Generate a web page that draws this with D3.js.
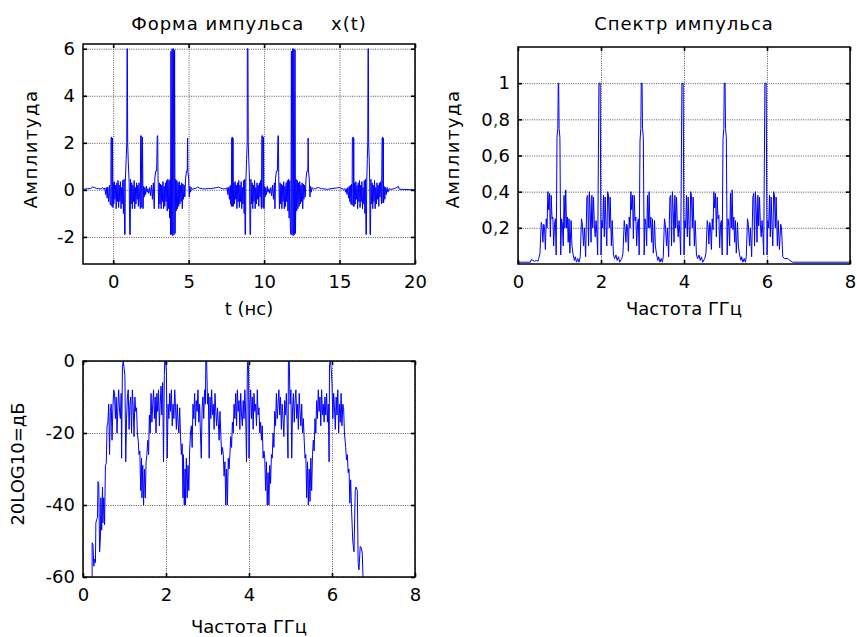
<!DOCTYPE html>
<meta charset="utf-8">
<style>
body { margin: 0; background: #fff; }
svg text { font-family: "DejaVu Sans", sans-serif; fill: #000; }
.grid line { stroke: #555; stroke-dasharray: 1,1.3; stroke-width: 1; }
.grid path { display: none; }
.tk line { stroke: #000; stroke-width: 1.6; }
.tk path { display: none; }
.box { fill: none; stroke: #000; stroke-width: 1.5; }
.sig { fill: none; stroke: #0000ff; stroke-width: 1; stroke-linejoin: miter; }
.ttl { white-space: pre; letter-spacing: 1px; }
.ylab { letter-spacing: 1.5px; }
</style>
<svg width="857" height="637"></svg>
<script src="https://d3js.org/d3.v7.min.js"></script>
<script>
// ---- данные: форма импульса x(t), t в нс ----
var pulseA = [[-2.1,0.02],[-1.9,0.03],[-1.7,0.05],[-1.5,0.06],[-1.35,0.12],[-1.25,0.1],[-1.1,0.06],[-0.95,0.05],[-0.8,0.04],[-0.7,0.1],[-0.62,0.02],[-0.55,0.08],[-0.5,-0.2],[-0.45,0.1],[-0.4,-0.35],[-0.36,0.12],[-0.3,-0.5],[-0.25,0.2],[-0.2,-0.6],
  [-0.16,-0.65],[-0.14,2.2],[-0.1,2.25],[-0.08,-0.7],[-0.05,2.2],[-0.02,-0.75],
  [0.0,0.3],[0.04,-0.6],[0.08,0.35],[0.12,-0.4],[0.16,0.2],[0.2,-0.8],[0.24,0.3],[0.28,-0.5],[0.32,0.4],[0.36,-0.75],[0.4,0.2],[0.44,-0.5],[0.48,0.35],[0.52,-0.8],[0.56,0.1],[0.6,-0.6],[0.64,0.4],[0.68,-1.0],[0.72,0.45],[0.76,-1.9],[0.79,-1.9],[0.8,0.3],[0.86,1.3],[0.9,2.0],[0.92,6.0],[0.94,6.0],[0.96,2.0],[1.0,1.2],[1.06,0.3],[1.1,-1.9],[1.13,-1.9],[1.15,0.45],[1.19,-0.6],[1.23,0.3],[1.27,-0.8],[1.31,0.2],[1.35,-0.5],[1.39,0.4],[1.43,-0.8],[1.47,0.1],[1.51,-0.6],[1.55,0.3],[1.59,-0.4],[1.63,0.2],[1.67,-0.7],[1.71,0.3],[1.75,-0.3],[1.8,-0.8],[1.82,2.3],[1.86,2.3],[1.9,-0.75],[1.94,2.25],[1.98,-0.8],[2.02,0.15],[2.06,-0.3],[2.1,0.1],[2.15,-0.2],[2.2,0.15],[2.25,-0.1],[2.3,0.05],[2.36,-0.15],[2.42,0.1],[2.48,-0.25],[2.54,0.2],[2.6,-0.4],[2.66,0.3],[2.72,-0.8],[2.76,0.5],[2.82,0.8],[2.88,0.8],[2.92,2.3],[2.95,2.3],[2.97,0.6],[3.02,-0.8],[3.06,0.3],[3.1,-0.6],[3.14,0.25],[3.18,-0.8],[3.22,0.2],[3.26,-0.5],[3.3,0.35],[3.34,-0.8],[3.38,0.15],[3.42,-0.7],[3.46,0.3],[3.5,-0.5],[3.54,0.4],[3.58,-0.9],[3.62,0.45],[3.66,-0.8],[3.7,0.4],[3.74,-1.2],[3.78,0.45],[3.8,-1.9],[3.83,5.9],[3.87,-1.9],[3.91,6.0],[3.95,-1.95],[3.99,6.0],[4.03,-1.9],[4.07,5.95],[4.1,-1.85],[4.14,0.45],[4.18,-0.9],[4.22,0.4],[4.26,-0.8],[4.3,0.3],[4.34,-0.7],[4.38,0.35],[4.42,-0.6],[4.46,0.2],[4.5,-0.5],[4.54,0.3],[4.58,-0.8],[4.62,0.25],[4.66,-0.4],[4.7,0.2],[4.75,-0.3],[4.8,0.5],[4.86,0.8],[4.91,0.8],[4.93,2.2],[4.95,0.8],[5.0,0.5],[5.04,-0.3],[5.08,0.15],[5.12,-0.1],[5.18,0.1],[5.25,0.02],[5.35,0.05],[5.5,0.08],[5.6,0.12],[5.7,0.08],[5.9,0.05],[6.1,0.04],[6.3,0.06],[6.5,0.05],[6.7,0.08],[6.9,0.1],[7.0,0.12],[7.1,0.08],[7.3,0.04],[7.45,0.05]];

var pulseB = [[7.5,0.03],[7.55,0.1],[7.6,-0.2],[7.65,0.1],[7.7,-0.4],[7.74,0.15],[7.78,-0.6],[7.8,0.2],[7.83,-0.7],[7.85,2.2],[7.9,2.25],[7.92,-0.7],[7.94,2.2],[7.96,-0.7],[8.0,0.3],[8.04,-0.6],[8.08,0.35],[8.12,-0.4],[8.16,0.2],[8.2,-0.8],[8.24,0.3],[8.28,-0.5],[8.32,0.4],[8.36,-0.75],[8.4,0.2],[8.44,-0.5],[8.48,0.35],[8.52,-0.8],[8.56,0.1],[8.6,-0.6],[8.64,0.4],[8.68,-1.0],[8.72,0.45],[8.74,-1.9],[8.77,-1.9],[8.79,0.3],[8.84,1.3],[8.88,2.0],[8.89,6.0],[8.93,6.0],[8.95,2.0],[8.99,1.2],[9.04,0.3],[9.07,-1.9],[9.1,-1.9],[9.13,0.45],[9.17,-0.6],[9.21,0.3],[9.25,-0.8],[9.29,0.2],[9.33,-0.5],[9.37,0.4],[9.41,-0.8],[9.45,0.1],[9.49,-0.6],[9.53,0.3],[9.57,-0.4],[9.61,0.2],[9.65,-0.7],[9.69,0.3],[9.73,-0.3],[9.77,0.4],[9.82,-0.8],[9.85,2.3],[9.9,2.3],[9.93,-0.75],[9.96,2.25],[9.99,-0.8],[10.03,0.15],[10.07,-0.3],[10.11,0.1],[10.16,-0.2],[10.21,0.15],[10.26,-0.1],[10.32,0.05],[10.38,-0.15],[10.44,0.1],[10.5,-0.25],[10.56,0.2],[10.62,-0.4],[10.68,0.3],[10.72,-0.8],[10.76,0.5],[10.82,0.8],[10.88,0.8],[10.92,2.3],[10.95,2.3],[10.97,0.6],[11.02,-0.8],[11.06,0.3],[11.1,-0.6],[11.14,0.25],[11.18,-0.8],[11.22,0.2],[11.26,-0.5],[11.3,0.35],[11.34,-0.8],[11.38,0.15],[11.42,-0.7],[11.46,0.3],[11.5,-0.5],[11.54,0.4],[11.58,-0.9],[11.62,0.45],[11.66,-1.2],[11.7,0.4],[11.74,-1.6],[11.78,-1.9],[11.81,5.9],[11.85,-1.9],[11.89,6.0],[11.93,-1.95],[11.97,6.0],[12.01,-1.9],[12.05,5.95],[12.08,-1.85],[12.12,0.45],[12.16,-0.9],[12.2,0.4],[12.24,-0.8],[12.28,0.3],[12.32,-0.7],[12.36,0.35],[12.4,-0.6],[12.44,0.2],[12.48,-0.5],[12.52,0.3],[12.56,-0.8],[12.6,0.25],[12.64,-0.4],[12.68,0.2],[12.73,-0.3],[12.78,0.5],[12.84,0.8],[12.9,0.8],[12.92,2.2],[12.94,0.8],[12.99,0.5],[13.04,-0.3],[13.08,0.15],[13.12,-0.1],[13.18,0.1],[13.26,0.03],[13.4,0.06],[13.6,0.1],[13.8,0.05],[14.0,0.04],[14.2,0.02],[14.5,0.06],[14.8,0.08],[15.0,0.1],[15.1,0.07],[15.25,0.03],[15.35,0.05]];

var pulseC = [[15.4,-0.1],[15.45,0.05],[15.5,-0.2],[15.55,0.1],[15.6,-0.35],[15.64,0.15],[15.68,-0.5],[15.72,0.2],[15.76,-0.6],[15.8,0.25],[15.83,-0.65],[15.85,2.2],[15.9,2.25],[15.92,-0.7],[15.94,2.2],[15.96,-0.7],[16.0,0.3],[16.04,-0.6],[16.08,0.35],[16.12,-0.4],[16.16,0.2],[16.2,-0.8],[16.24,0.3],[16.28,-0.5],[16.32,0.4],[16.36,-0.75],[16.4,0.2],[16.44,-0.5],[16.48,0.35],[16.52,-0.8],[16.56,0.1],[16.6,-0.6],[16.64,0.4],[16.68,-1.0],[16.72,0.45],[16.75,-1.9],[16.78,-1.9],[16.8,0.3],[16.84,1.3],[16.87,2.0],[16.89,6.0],[16.91,6.0],[16.93,2.0],[16.97,1.2],[17.0,0.3],[17.02,-1.9],[17.05,-1.9],[17.08,0.45],[17.12,-0.6],[17.16,0.3],[17.2,-0.8],[17.24,0.2],[17.28,-0.5],[17.32,0.4],[17.36,-0.8],[17.4,0.1],[17.44,-0.6],[17.48,0.3],[17.52,-0.4],[17.56,0.2],[17.6,-0.7],[17.64,0.3],[17.68,-0.3],[17.72,0.35],[17.78,-0.6],[17.82,2.2],[17.86,2.25],[17.88,-0.55],[17.9,2.2],[17.92,-0.55],[17.96,0.15],[18.0,-0.4],[18.05,0.1],[18.1,-0.2],[18.15,0.1],[18.2,-0.1],[18.28,0.05],[18.4,0.02],[18.6,0.05],[18.8,0.1],[18.9,0.15],[18.95,0.03],[19.2,0.02],[19.6,0.01],[20.1,0.0]];

// ---- данные: спектр импульса (амплитуда), частота в ГГц ----
var spectrum = [[0,0.01],[0.3,0.01],[0.32,0.025],[0.36,0.02],[0.4,0.015],[0.44,0.02],[0.48,0.015],[0.5,0.03],
  [0.53,0.06],[0.56,0.23],[0.58,0.21],[0.6,0.12],[0.62,0.22],[0.64,0.2],[0.66,0.08],[0.68,0.25],[0.7,0.2],[0.72,0.4],[0.74,0.3],[0.76,0.39],[0.78,0.15],[0.8,0.38],[0.82,0.25],[0.84,0.26],[0.86,0.1],[0.88,0.22],[0.9,0.25],[0.92,0.05],[0.94,0.7],[0.96,0.75],[0.97,1.0],[0.98,1.0],[0.99,0.75],[1.01,0.7],[1.03,0.05],[1.05,0.25],[1.07,0.22],[1.09,0.1],[1.11,0.38],[1.13,0.2],[1.15,0.41],[1.17,0.2],[1.19,0.26],[1.21,0.12],[1.23,0.25],[1.25,0.06],[1.28,0.24],[1.3,0.1],[1.33,0.05],[1.36,0.02],[1.38,0.04],[1.41,0.01],[1.44,0.03],[1.47,0.01],[1.5,0.04],
  [1.53,0.25],[1.55,0.22],[1.58,0.1],[1.6,0.2],[1.63,0.04],[1.66,0.37],[1.68,0.38],[1.7,0.1],[1.72,0.4],[1.74,0.3],[1.76,0.12],[1.78,0.38],[1.8,0.2],[1.82,0.37],[1.84,0.22],[1.86,0.15],[1.88,0.24],[1.9,0.17],[1.92,0.05],[1.95,1.0],[1.98,1.0],[2.0,0.05],[2.02,0.24],[2.04,0.2],[2.06,0.38],[2.08,0.15],[2.1,0.37],[2.12,0.22],[2.14,0.1],[2.16,0.4],[2.18,0.38],[2.2,0.2],[2.22,0.37],[2.25,0.1],[2.27,0.24],[2.3,0.05],[2.33,0.03],[2.36,0.05],[2.39,0.02],[2.42,0.04],[2.45,0.01],[2.5,0.03],
  [2.53,0.06],[2.56,0.24],[2.58,0.2],[2.6,0.12],[2.62,0.22],[2.64,0.2],[2.66,0.07],[2.68,0.26],[2.7,0.2],[2.72,0.4],[2.74,0.3],[2.76,0.38],[2.78,0.14],[2.8,0.38],[2.82,0.24],[2.84,0.26],[2.86,0.1],[2.88,0.22],[2.9,0.25],[2.92,0.05],[2.94,0.68],[2.96,0.75],[2.97,1.0],[2.99,1.0],[3.0,0.75],[3.02,0.7],[3.04,0.05],[3.06,0.25],[3.08,0.22],[3.1,0.1],[3.12,0.38],[3.14,0.2],[3.16,0.4],[3.18,0.2],[3.2,0.26],[3.22,0.12],[3.24,0.25],[3.26,0.06],[3.29,0.24],[3.31,0.1],[3.34,0.05],[3.37,0.02],[3.39,0.04],[3.42,0.01],[3.45,0.03],[3.48,0.01],[3.5,0.04],
  [3.53,0.25],[3.55,0.22],[3.58,0.1],[3.6,0.2],[3.63,0.04],[3.66,0.37],[3.68,0.38],[3.7,0.1],[3.72,0.4],[3.74,0.3],[3.76,0.12],[3.78,0.38],[3.8,0.2],[3.82,0.37],[3.84,0.22],[3.86,0.15],[3.88,0.24],[3.9,0.17],[3.92,0.05],[3.95,1.0],[3.98,1.0],[4.0,0.05],[4.02,0.24],[4.04,0.2],[4.06,0.38],[4.08,0.15],[4.1,0.37],[4.12,0.22],[4.14,0.1],[4.16,0.4],[4.18,0.38],[4.2,0.2],[4.22,0.37],[4.25,0.1],[4.27,0.24],[4.3,0.05],[4.33,0.03],[4.36,0.05],[4.39,0.02],[4.42,0.04],[4.45,0.01],[4.5,0.03],
  [4.53,0.06],[4.56,0.24],[4.58,0.21],[4.6,0.11],[4.62,0.23],[4.64,0.2],[4.66,0.08],[4.68,0.25],[4.7,0.19],[4.72,0.4],[4.74,0.31],[4.76,0.39],[4.78,0.15],[4.8,0.37],[4.82,0.25],[4.84,0.27],[4.86,0.09],[4.88,0.22],[4.9,0.24],[4.92,0.05],[4.94,0.69],[4.96,0.75],[4.97,1.0],[4.99,1.0],[5.0,0.75],[5.02,0.7],[5.04,0.05],[5.06,0.25],[5.08,0.21],[5.1,0.1],[5.12,0.39],[5.14,0.2],[5.16,0.41],[5.18,0.19],[5.2,0.26],[5.22,0.12],[5.24,0.24],[5.26,0.06],[5.29,0.23],[5.31,0.1],[5.34,0.05],[5.37,0.02],[5.39,0.04],[5.42,0.01],[5.45,0.03],[5.48,0.01],[5.5,0.04],
  [5.53,0.25],[5.55,0.22],[5.58,0.1],[5.6,0.2],[5.63,0.04],[5.66,0.37],[5.68,0.39],[5.7,0.1],[5.72,0.4],[5.74,0.3],[5.76,0.12],[5.78,0.38],[5.8,0.21],[5.82,0.37],[5.84,0.22],[5.86,0.15],[5.88,0.24],[5.9,0.17],[5.92,0.05],[5.95,1.0],[5.98,1.0],[6.0,0.05],[6.02,0.24],[6.04,0.2],[6.06,0.38],[6.08,0.15],[6.1,0.37],[6.12,0.22],[6.14,0.1],[6.16,0.4],[6.18,0.38],[6.2,0.2],[6.22,0.37],[6.25,0.1],[6.27,0.24],[6.3,0.08],[6.33,0.22],[6.35,0.2],[6.38,0.04],[6.42,0.03],[6.5,0.03],[6.55,0.02],[6.62,0.01],[8,0.01]];

// ---- данные: спектр в дБ ----
var spectrumDb = [[0.22,-61],[0.22,-50.5],[0.24,-51],[0.26,-57],[0.28,-55],[0.3,-56],[0.31,-45],[0.33,-44],[0.35,-43.5],[0.36,-33.5],[0.38,-34],[0.4,-53],[0.42,-49],[0.43,-38],[0.45,-47],[0.47,-35],[0.48,-45],[0.5,-38],[0.52,-45.5],[0.54,-29],[0.56,-28.5],[0.58,-18],[0.6,-17],[0.62,-12],[0.64,-26],[0.66,-14],[0.68,-12],[0.7,-22],[0.72,-13],[0.74,-8],[0.76,-9],[0.78,-16],[0.8,-10],[0.82,-20],[0.84,-13],[0.86,-8],[0.88,-14],[0.9,-16],[0.92,-9],[0.93,-27],[0.95,-1.5],[0.97,0],[0.99,-2],[1.01,-4],[1.03,-28],[1.05,-16],[1.07,-10],[1.09,-8],[1.11,-19],[1.13,-12],[1.15,-10],[1.17,-20],[1.19,-8],[1.21,-13],[1.23,-21],[1.25,-10],[1.27,-14],[1.29,-13],[1.31,-20],[1.33,-22],[1.35,-26],[1.37,-25],[1.39,-36],[1.41,-27],[1.42,-38],[1.44,-29],[1.46,-40],[1.48,-30],[1.5,-38],[1.52,-28],[1.54,-26],[1.56,-22],[1.58,-26],[1.6,-15],[1.62,-20],[1.64,-9],[1.66,-17],[1.68,-12],[1.7,-8],[1.72,-16],[1.74,-10],[1.76,-20],[1.78,-9],[1.8,-14],[1.82,-8],[1.84,-18],[1.86,-12],[1.88,-7],[1.9,-15],[1.92,-6],[1.94,-28],[1.96,-4],[1.97,0],[1.99,0],[2.01,-3],
  [2.03,-27],[2.05,-12],[2.07,-16],[2.09,-9],[2.11,-14],[2.13,-8],[2.15,-18],[2.17,-12],[2.19,-16],[2.21,-8],[2.23,-13],[2.25,-19],[2.27,-12],[2.29,-17],[2.31,-20],[2.33,-13],[2.35,-21],[2.37,-26],[2.39,-23],[2.41,-38],[2.42,-26],[2.44,-40],[2.46,-30],[2.47,-40],[2.49,-27],[2.51,-38],[2.53,-29],[2.55,-36],[2.57,-25],[2.59,-20],[2.61,-18],[2.63,-24],[2.65,-12],[2.67,-16],[2.69,-9],[2.71,-18],[2.73,-11],[2.75,-14],[2.77,-8],[2.79,-17],[2.81,-12],[2.83,-20],[2.85,-27],[2.87,-13],[2.89,-10],[2.91,-16],[2.93,-8],[2.95,-12],[2.96,0],[2.98,0],[3.0,-12],
  [3.02,-9],[3.04,-27],[3.06,-10],[3.08,-16],[3.1,-8],[3.12,-15],[3.14,-12],[3.16,-19],[3.18,-9],[3.2,-14],[3.22,-18],[3.24,-13],[3.26,-17],[3.28,-22],[3.3,-14],[3.32,-20],[3.34,-26],[3.36,-24],[3.38,-26],[3.4,-32],[3.42,-28],[3.44,-40],[3.46,-30],[3.48,-40],[3.5,-27],[3.52,-30],[3.54,-26],[3.56,-21],[3.58,-24],[3.6,-17],[3.62,-20],[3.64,-12],[3.66,-16],[3.68,-9],[3.7,-18],[3.72,-8],[3.74,-14],[3.76,-11],[3.78,-19],[3.8,-9],[3.82,-15],[3.84,-18],[3.86,-11],[3.88,-16],[3.9,-8],[3.92,-15],[3.94,-28],[3.96,-3],[3.97,0],[3.99,-2],[4.0,-27],
  [4.02,-12],[4.04,-8],[4.06,-16],[4.08,-10],[4.1,-19],[4.12,-9],[4.14,-14],[4.16,-12],[4.18,-18],[4.2,-8],[4.22,-15],[4.24,-13],[4.26,-20],[4.28,-17],[4.3,-22],[4.32,-18],[4.34,-27],[4.36,-25],[4.38,-27],[4.4,-36],[4.42,-28],[4.44,-40],[4.46,-31],[4.48,-40],[4.5,-29],[4.52,-34],[4.54,-26],[4.56,-27],[4.58,-20],[4.6,-24],[4.62,-14],[4.64,-18],[4.66,-9],[4.68,-16],[4.7,-12],[4.72,-8],[4.74,-15],[4.76,-10],[4.78,-19],[4.8,-12],[4.82,-16],[4.84,-21],[4.86,-11],[4.88,-15],[4.9,-9],[4.92,-17],[4.94,-27],[4.95,0],[4.97,0],[4.99,-12],
  [5.01,-8],[5.03,-27],[5.05,-13],[5.07,-9],[5.09,-17],[5.11,-11],[5.13,-8],[5.15,-16],[5.17,-12],[5.19,-19],[5.21,-9],[5.23,-14],[5.25,-18],[5.27,-12],[5.29,-20],[5.31,-16],[5.33,-22],[5.35,-27],[5.37,-26],[5.39,-38],[5.41,-28],[5.43,-40],[5.45,-30],[5.47,-39],[5.49,-27],[5.51,-36],[5.53,-26],[5.55,-22],[5.57,-25],[5.59,-16],[5.61,-20],[5.63,-11],[5.65,-16],[5.67,-8],[5.69,-14],[5.71,-10],[5.73,-18],[5.75,-8],[5.77,-15],[5.79,-12],[5.81,-17],[5.83,-10],[5.85,-15],[5.87,-9],[5.89,-17],[5.91,-12],[5.93,-28],[5.94,-1],[5.96,0],[5.98,-2],[6.0,-6],
  [6.02,-16],[6.04,-9],[6.06,-13],[6.08,-19],[6.1,-10],[6.12,-15],[6.14,-8],[6.16,-20],[6.18,-12],[6.2,-17],[6.22,-9],[6.24,-18],[6.26,-12],[6.28,-13],[6.3,-20],[6.33,-24],[6.35,-27.5],[6.37,-26],[6.39,-31],[6.41,-30],[6.43,-39.5],[6.45,-33],[6.47,-41],[6.5,-50],[6.53,-53],[6.56,-36],[6.58,-35],[6.61,-36],[6.63,-56],[6.65,-58],[6.68,-51.5],[6.71,-52],[6.73,-53.5],[6.75,-61]];

// ---- оси, подписи ----
var timeTicks = [0, 5, 10, 15, 20];
var timeTickLabels = ["0", "5", "10", "15", "20"];
var ampTicks = [-2, 0, 2, 4, 6];
var ampTickLabels = ["-2", "0", "2", "4", "6"];
var freqTicks = [0, 2, 4, 6, 8];
var freqTickLabels = ["0", "2", "4", "6", "8"];
var specTicks = [0.2, 0.4, 0.6, 0.8, 1];
var specTickLabels = ["0,2", "0,4", "0,6", "0,8", "1"];
var dbTicks = [-60, -40, -20, 0];
var dbTickLabels = ["-60", "-40", "-20", "0"];

var svg = d3.select("svg");

function panel(o) {
  var g = svg.append("g").attr("transform", "translate(" + o.left + "," + o.top + ")");
  var x = d3.scaleLinear().domain(o.xDomain).range([0, o.w]);
  var y = d3.scaleLinear().domain(o.yDomain).range([o.h, 0]);

  // сетка
  g.append("g").attr("class", "grid")
    .call(d3.axisBottom(x).tickValues(o.xTicks).tickSize(o.h).tickFormat(""));
  g.append("g").attr("class", "grid")
    .call(d3.axisLeft(y).tickValues(o.yTicks).tickSize(-o.w).tickFormat(""));

  var clipId = "clip" + o.id;
  g.append("clipPath").attr("id", clipId)
    .append("rect").attr("width", o.w).attr("height", o.h);

  var line = d3.line()
    .x(function(d) { return x(d[0]); })
    .y(function(d) { return y(d[1]); });

  g.append("path")
    .datum(o.data)
    .attr("class", "sig")
    .attr("clip-path", "url(#" + clipId + ")")
    .attr("d", line);

  g.append("rect").attr("class", "box").attr("width", o.w).attr("height", o.h);

  // засечки внутрь, как в MATLAB
  var bx = g.append("g").attr("class", "tk").attr("transform", "translate(0," + o.h + ")")
    .call(d3.axisBottom(x).tickValues(o.xTicks).tickSize(-4).tickPadding(11)
      .tickFormat(function(d, i) { return o.xLabels[i]; }));
  g.append("g").attr("class", "tk")
    .call(d3.axisTop(x).tickValues(o.xTicks).tickSize(-4).tickFormat(""));
  var ly = g.append("g").attr("class", "tk")
    .call(d3.axisLeft(y).tickValues(o.yTicks).tickSize(-4).tickPadding(8)
      .tickFormat(function(d, i) { return o.yLabels[i]; }));
  g.append("g").attr("class", "tk").attr("transform", "translate(" + o.w + ",0)")
    .call(d3.axisRight(y).tickValues(o.yTicks).tickSize(-4).tickFormat(""));

  bx.attr("font-size", 18);
  ly.attr("font-size", 18);

  // запятая в десятичных подписях
  ly.selectAll("text").each(function() {
    var t = d3.select(this), s = t.text();
    if (s.indexOf(",") < 0) return;
    var parts = s.split(",");
    t.text(null);
    t.append("tspan").text(parts[0]);
    t.append("tspan").style("fill", "#2f5f3a").text(",");
    t.append("tspan").text(parts[1]);
  });

  if (o.title) {
    svg.append("text").attr("class", "ttl")
      .attr("x", o.left + o.w / 2).attr("y", o.titleY)
      .attr("text-anchor", "middle").attr("font-size", 18)
      .text(o.title);
  }
  svg.append("text")
    .attr("x", o.left + o.w / 2).attr("y", o.xTitleY)
    .attr("text-anchor", "middle").attr("font-size", 18)
    .text(o.xTitle);
  svg.append("text")
    .attr("class", o.yTitleSpaced ? "ylab" : null)
    .attr("transform", "translate(" + o.yTitleX + "," + o.yTitleC + ") rotate(-90)")
    .attr("text-anchor", "middle").attr("font-size", 18)
    .text(o.yTitle);
}

panel({
  id: 1, left: 83, top: 44, w: 332, h: 220,
  xDomain: [-2, 20], yDomain: [-3.15, 6.2],
  xTicks: timeTicks, xLabels: timeTickLabels,
  yTicks: ampTicks, yLabels: ampTickLabels,
  data: pulseA.concat(pulseB, pulseC),
  title: "Форма импульса    x(t)", titleY: 30,
  xTitle: "t (нс)", xTitleY: 315,
  yTitle: "Амплитуда", yTitleX: 37, yTitleC: 149, yTitleSpaced: true
});

panel({
  id: 2, left: 518, top: 47, w: 332, h: 217,
  xDomain: [0, 8], yDomain: [0, 1.2],
  xTicks: freqTicks, xLabels: freqTickLabels,
  yTicks: specTicks, yLabels: specTickLabels,
  data: spectrum,
  title: "Спектр импульса", titleY: 30,
  xTitle: "Частота ГГц", xTitleY: 315,
  yTitle: "Амплитуда", yTitleX: 459, yTitleC: 149, yTitleSpaced: true
});

panel({
  id: 3, left: 83, top: 361, w: 332, h: 216,
  xDomain: [0, 8], yDomain: [-60, 0],
  xTicks: freqTicks, xLabels: freqTickLabels,
  yTicks: dbTicks, yLabels: dbTickLabels,
  data: spectrumDb,
  xTitle: "Частота ГГц", xTitleY: 633,
  yTitle: "20LOG10=дБ", yTitleX: 24, yTitleC: 464
});
</script>
